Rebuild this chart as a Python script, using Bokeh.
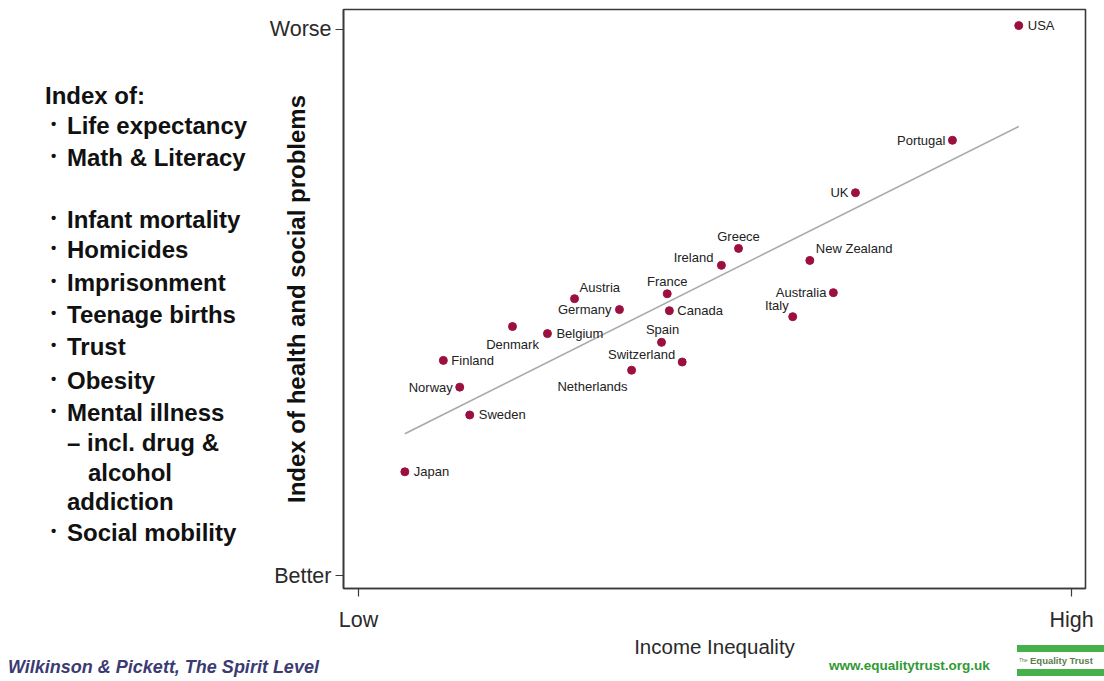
import html
import numpy as np
from bokeh.plotting import figure
from bokeh.models import ColumnDataSource, FixedTicker, Range1d, Div
from bokeh.layouts import column, row
from bokeh.core.properties import value
from bokeh.embed import file_html
from bokeh.resources import INLINE

# ---------------- data (arbitrary 0-100 index units) ----------------
countries = ["USA", "Portugal", "UK", "New Zealand", "Greece", "Ireland", "Australia",
             "Italy", "France", "Canada", "Austria", "Germany", "Belgium", "Denmark",
             "Spain", "Switzerland", "Netherlands", "Finland", "Norway", "Sweden", "Japan"]
income_inequality = [92.6, 83.3, 69.7, 63.3, 53.3, 50.9, 66.6,
                     60.9, 43.3, 43.6, 30.3, 36.6, 26.5, 21.6,
                     42.5, 45.4, 38.3, 11.9, 14.2, 15.6, 6.5]
health_social_index = [100.7, 79.7, 70.1, 57.7, 59.9, 56.8, 51.8,
                       47.4, 51.6, 48.5, 50.7, 48.7, 44.3, 45.6,
                       42.7, 39.1, 37.6, 39.4, 34.5, 29.4, 19.0]
x_ticks = [0, 100]
x_tick_labels = ["Low", "High"]
y_ticks = [0, 100]
y_tick_labels = ["Better", "Worse"]
x_title = "Income Inequality"
y_title = "Index of health and social problems"
list_title = "Index of:"
index_items = ["Life expectancy", "Math & Literacy", "Infant mortality", "Homicides",
               "Imprisonment", "Teenage births", "Trust", "Obesity", "Mental illness",
               "\u2013 incl. drug &", "alcohol", "addiction", "Social mobility"]
source_text = "Wilkinson & Pickett, The Spirit Level"
url_text = "www.equalitytrust.org.uk"
logo_text = "Equality Trust"

# ---------------- styles / layout ----------------
FONT = "Liberation Sans"
DOT = "#9c1040"
LEFT_W = 262          # width of the left text column
FIG_H = 660           # height of the chart row
# label placement per country: (dx px, dy px (down +), align)
label_pos = {
    "USA": (9, 0, "left"), "Portugal": (-7, 0, "right"), "UK": (-7, 0, "right"),
    "New Zealand": (6, -12, "left"), "Greece": (0, -12, "center"),
    "Ireland": (-8, -8, "right"), "Australia": (-7, 0, "right"),
    "Italy": (-4, -11, "right"), "France": (0, -12, "center"), "Canada": (8, 0, "left"),
    "Austria": (5, -11, "left"), "Germany": (-8, 0, "right"), "Belgium": (9, 0, "left"),
    "Denmark": (0, 18, "center"), "Spain": (1, -13, "center"),
    "Switzerland": (-7, -8, "right"), "Netherlands": (-4, 16, "right"),
    "Finland": (8, 0, "left"), "Norway": (-7, 0, "right"), "Sweden": (9, 0, "left"),
    "Japan": (9, 0, "left"),
}

# frame of the chart in page pixels: left 343, right 1085, top 9, bottom 590
# data 0 -> x 358 px / y 577 px ; 100 units = 713 px (x) / 548 px (y)
def dxp(px):
    return (px - 358) / 7.13

def dyp(py):
    return (577 - py) / 5.48

p = figure(width=1104 - LEFT_W, height=FIG_H, output_backend="svg", toolbar_location=None,
           x_range=Range1d(dxp(343), dxp(1085)), y_range=Range1d(dyp(590), dyp(9)),
           min_border_left=343 - LEFT_W, min_border_top=9, min_border_right=1104 - 1085,
           min_border_bottom=FIG_H - 590, margin=0)
p.background_fill_color = "white"
p.border_fill_color = "white"
p.outline_line_color = "#3a3a3a"
p.outline_line_width = 1.6
p.xgrid.visible = False
p.ygrid.visible = False

for ax, ticks, labels in ((p.xaxis[0], x_ticks, x_tick_labels), (p.yaxis[0], y_ticks, y_tick_labels)):
    ax.ticker = FixedTicker(ticks=ticks, minor_ticks=[])
    ax.major_label_overrides = {t: l for t, l in zip(ticks, labels)}
    ax.axis_line_color = "#3a3a3a"
    ax.axis_line_width = 1.6
    ax.major_tick_line_color = "#3a3a3a"
    ax.major_tick_line_width = 1.2
    ax.major_tick_out = 8
    ax.major_tick_in = 0
    ax.minor_tick_line_color = None
    ax.major_label_text_font = FONT
    ax.major_label_text_font_size = "21.5px"
    ax.major_label_text_color = "#2a2a2a"
    ax.axis_label_text_font = FONT

p.yaxis[0].major_label_standoff = 4
p.yaxis[0].axis_label = y_title
p.yaxis[0].axis_label_text_font_size = "24px"
p.yaxis[0].axis_label_text_font_style = "bold"
p.yaxis[0].axis_label_text_color = "#111111"
p.yaxis[0].axis_label_standoff = -43

p.xaxis[0].major_label_standoff = 11
p.xaxis[0].axis_label = x_title
p.xaxis[0].axis_label_text_font_size = "20.5px"
p.xaxis[0].axis_label_text_font_style = "normal"
p.xaxis[0].axis_label_text_color = "#2a2a2a"
p.xaxis[0].axis_label_standoff = 0

# fitted regression line
coef = np.polyfit(income_inequality, health_social_index, 1)
xf = np.array([min(income_inequality), max(income_inequality)])
p.line(xf, np.polyval(coef, xf), line_color="#a8a8a8", line_width=1.6)

# points
src = ColumnDataSource(dict(
    x=income_inequality, y=health_social_index, name=countries,
    xo=[label_pos[c][0] for c in countries],
    yo=[label_pos[c][1] for c in countries],
    al=[label_pos[c][2] for c in countries],
))
p.scatter("x", "y", source=src, size=8, fill_color=DOT, line_color=DOT)
p.text("x", "y", text="name", source=src, x_offset="xo", y_offset="yo",
       text_align="al", text_baseline="middle", text_font=value(FONT),
       text_font_size="13px", text_color="#222222")


def item(x, yc, text, size, color="#111111", weight="bold", style="normal", lh=28):
    return (f'<div style="position:absolute;left:{x}px;top:{yc - lh / 2}px;'
            f'line-height:{lh}px;font-size:{size}px;font-weight:{weight};font-style:{style};'
            f'color:{color};white-space:nowrap;font-family:\'{FONT}\';">{html.escape(text)}</div>')

# left text column
parts = [item(45, 96, list_title, 24)]
item_y = [126, 158, 220, 250, 283, 315, 347, 381, 413, 443, 473, 502, 533]
item_x = [67, 67, 67, 67, 67, 67, 67, 67, 67, 67, 88, 67, 67]
item_bullet = [True] * 9 + [False, False, False, True]
for txt, yy, xx, b in zip(index_items, item_y, item_x, item_bullet):
    parts.append(item(xx, yy, txt, 24))
    if b:
        parts.append(item(51, yy - 2, "\u2022", 15))
left_div = Div(text=f'<div style="position:relative;width:{LEFT_W}px;height:{FIG_H}px;">'
                    + "".join(parts) + "</div>", width=LEFT_W, height=FIG_H, margin=0)

# footer
fy = -FIG_H  # convert page y to footer-local y
foot = [
    item(8, 667 + fy, source_text, 18, color="#3b3b72", style="italic", lh=22),
    item(829, 666 + fy, url_text, 13.5, color="#2f9a33", lh=18),
    '<div style="position:absolute;left:1017px;top:%dpx;width:87px;height:7px;background:#46b04a;"></div>' % (645 + fy),
    '<div style="position:absolute;left:1017px;top:%dpx;width:87px;height:7px;background:#46b04a;"></div>' % (669 + fy),
    item(1019, 660 + fy, "The", 5, color="#5a7d50", weight="normal", lh=8),
    item(1030, 661 + fy, logo_text, 9.5, color="#5a7d50", lh=12),
]
footer_div = Div(text=f'<div style="position:relative;width:1104px;height:{681 - FIG_H}px;">'
                      + "".join(foot) + "</div>", width=1104, height=681 - FIG_H, margin=0)

layout = column(row(left_div, p, margin=0), footer_div, margin=0)
open("out.html", "w").write(file_html(layout, INLINE))
